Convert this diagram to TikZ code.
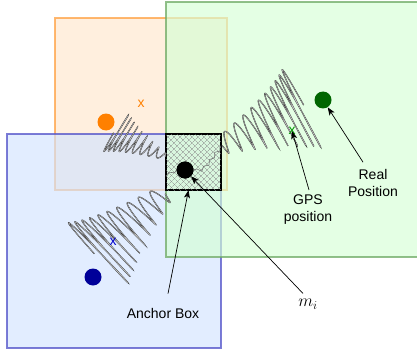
\documentclass[tikz,border=0pt]{standalone}
\usepackage{fontspec}
\setsansfont{Liberation Sans}
\usepackage{tikz}
\usetikzlibrary{arrows.meta,positioning,calc,patterns.meta,decorations.pathmorphing}
\definecolor{zoneorange}{RGB}{255,230,204}
\definecolor{edgeorange}{RGB}{255,160,64}
\definecolor{zonegreen}{RGB}{213,255,213}
\definecolor{edgegreen}{RGB}{110,170,100}
\definecolor{zoneblue}{RGB}{210,228,255}
\definecolor{edgeblue}{RGB}{80,80,200}
\definecolor{dotorange}{RGB}{255,128,0}
\definecolor{dotgreen}{RGB}{0,102,0}
\definecolor{dotblue}{RGB}{0,0,153}
\definecolor{markgreen}{RGB}{0,150,0}
\definecolor{markblue}{RGB}{0,0,204}
\tikzset{
  spot/.style={circle,inner sep=0pt,minimum size=17pt},
  xmark/.style={font=\sffamily\fontsize{14}{14}\selectfont,inner sep=1pt},
  lbl/.style={font=\sffamily\fontsize{14}{17}\selectfont,align=center,inner sep=2pt},
  arr/.style={-{Stealth[length=8pt,width=6pt,inset=2pt]},line width=0.7pt},
  springline/.style={draw=black!85,line width=0.35pt,double=gray!50,double distance=0.4pt},
  wiggle/.style={draw=black!55,line width=0.6pt,decorate,decoration={snake,amplitude=1.6pt,segment length=9pt}}
}

\begin{document}
\begin{tikzpicture}[
  x=1pt,y=-1pt,
  zone/.style={line width=1.5pt,fill opacity=0.65,draw opacity=0.75},
  hatch/.style={pattern={Lines[angle=45,distance=4pt,line width=0.3pt]},pattern color=black!45},
  anchorbox/.style={draw=black,line width=1.6pt,inner sep=0pt,minimum width=55pt,minimum height=56pt,
    hatch,postaction={pattern={Lines[angle=-45,distance=4pt,line width=0.3pt]},pattern color=black!45}}
]
\clip (0,0) rectangle (417,350);

% coverage zones
\draw[zone,fill=zoneorange,draw=edgeorange] (55,18) rectangle (227,190);
\draw[zone,fill=zoneblue,draw=edgeblue] (7,134) rectangle (221,348);
\draw[zone,fill=zonegreen,draw=edgegreen] (166,2) rectangle (425,257);

\node[anchorbox] (box) at (193.5,162) {};

% springs from the anchor box
\foreach \sx/\sy/\ex/\ey/\dx/\dy/\ao/\ai/\nn in {
  166/157/115/132/0.52/-0.85/3/23/9,
  221/146/304/108/0.47/0.88/9/45/10,
  166/193/97/255/0.68/0.73/9/44/10}{
  \draw[springline] plot[domain=0:1,samples=700,variable=\u]
    ({\sx+(\ex-\sx)*(\u+0.5*\u*(1-\u)+(0.08+0.17*\u)*(1.5-\u)/\nn*cos(\nn*360*\u))+(\ao+(\ai-\ao)*\u)*(\dx)*sin(\nn*360*\u)},
     {\sy+(\ey-\sy)*(\u+0.5*\u*(1-\u)+(0.08+0.17*\u)*(1.5-\u)/\nn*cos(\nn*360*\u))+(\ao+(\ai-\ao)*\u)*(\dy)*sin(\nn*360*\u)});
}

\node[spot,fill=black] (anchordot) at (185,170) {};
\draw[wiggle] (anchordot.east) .. controls (205,172) and (212,150) .. ($(box.east)+(0,-16)$);
\draw[wiggle] (anchordot.west) -- ($(box.west)+(0,14)$);
\node[spot,fill=black] at (anchordot) {};

\node[spot,fill=dotorange] (orangedot) at (106,122) {};
\node[spot,fill=dotgreen] (realdot) at (323,100) {};
\node[spot,fill=dotblue] (bluedot) at (93,277) {};

\node[xmark,text=dotorange] (orangex) at (141,104) {x};
\node[xmark,text=markgreen] (gpsx) at (292,131) {x};
\node[xmark,text=markblue] (bluex) at (113,242) {x};

\node[lbl] (reallbl) at (373,183) {Real\\Position};
\node[lbl] (gpslbl) at (308,210) {GPS\\position};
\node[lbl] (anchorlbl) at (163,313) {Anchor Box};
\node[font=\fontsize{17}{17}\selectfont] (milbl) at (308,304) {$m_i$};

\draw[arr] ($(reallbl.north)+(-10,-5)$) -- (realdot);
\draw[arr] ($(gpslbl.north)+(1,-3)$) -- (gpsx.center);
\draw[arr] ($(anchorlbl.north)+(5,-12)$) -- ($(box.south)+(-5,0)$);
\draw[arr] ($(milbl.north)+(-5,-2)$) -- (anchordot);
\end{tikzpicture}
\end{document}
